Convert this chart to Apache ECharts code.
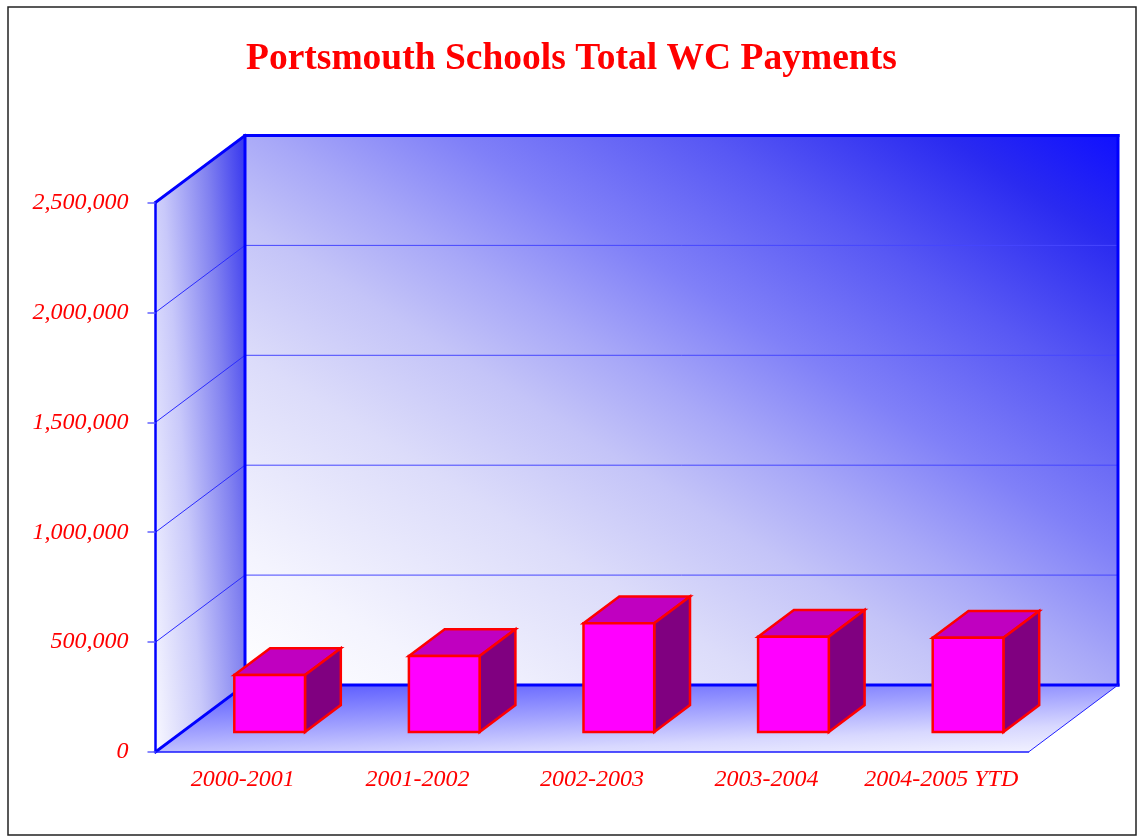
<!DOCTYPE html>
<html>
<head>
<meta charset="utf-8">
<title>Portsmouth Schools Total WC Payments</title>
<script src="https://cdn.jsdelivr.net/npm/echarts@6/dist/echarts.min.js"></script>
<style>
  html, body { margin: 0; padding: 0; background: #fff; }
  #chart { width: 1139px; height: 836px; }
</style>
</head>
<body>
<div id="chart"></div>
<script>
// chart data
var categories = ['2000-2001', '2001-2002', '2002-2003', '2003-2004', '2004-2005 YTD'];
var payments = [259000, 345000, 494000, 433000, 428000];
var yTicks = [0, 500000, 1000000, 1500000, 2000000, 2500000];

// 3d look: depth offset of the back wall, bar placement inside the depth
var DX = 89.5, DY = -67;
var BAR_FRONT = 0.3, BAR_BACK = 0.7, BAR_WIDTH = 0.405;

var chart = echarts.init(document.getElementById('chart'));

function fmt(v) {
    return String(v).replace(/\B(?=(\d{3})+(?!\d))/g, ',');
}

function lin(x1, y1, x2, y2, stops) {
    return new echarts.graphic.LinearGradient(x1, y1, x2, y2, stops, true);
}

// walls, floor and grid lines
function renderWalls(params, api) {
    if (params.dataIndex !== 0) return;
    var cs = params.coordSys;
    var x0 = cs.x, x1 = cs.x + cs.width, yt = cs.y, yb = cs.y + cs.height;
    var w = cs.width, h = cs.height;
    var kids = [];

    // left wall
    kids.push({
        type: 'polygon',
        shape: { points: [[x0, yb], [x0 + DX, yb + DY], [x0 + DX, yt + DY], [x0, yt]] },
        style: { fill: lin(x0, yb, x0 + 163, yb - 12, [
            { offset: 0, color: '#f8f8ff' },
            { offset: 0.3, color: '#c8c8fa' },
            { offset: 0.58, color: '#8080f0' },
            { offset: 0.85, color: '#2e2eee' },
            { offset: 1, color: '#1414ee' }
        ]) }
    });
    // floor
    kids.push({
        type: 'polygon',
        shape: { points: [[x0, yb], [x1, yb], [x1 + DX, yb + DY], [x0 + DX, yb + DY]] },
        style: { fill: lin(x0 + DX, yb + DY, x0 + DX + 5, yb + DY + 111, [
            { offset: 0, color: '#5858ff' },
            { offset: 0.4, color: '#a0a0ff' },
            { offset: 0.7, color: '#d8d8ff' },
            { offset: 1, color: '#fafaff' }
        ]) }
    });
    // back wall, diagonal corner-to-corner gradient
    var gx = 1 / (2 * w), gy = 1 / (2 * h), g2 = gx * gx + gy * gy;
    var bx0 = x0 + DX, by0 = yb + DY;
    kids.push({
        type: 'rect',
        shape: { x: x0 + DX, y: yt + DY, width: w, height: h },
        style: { fill: lin(bx0, by0, bx0 + gx / g2, by0 - gy / g2, [
            { offset: 0, color: '#ffffff' },
            { offset: 0.12, color: '#f4f4fe' },
            { offset: 0.3, color: '#dcdcfa' },
            { offset: 0.42, color: '#c4c4f8' },
            { offset: 0.51, color: '#a8a8f8' },
            { offset: 0.62, color: '#8080f8' },
            { offset: 0.76, color: '#5858f4' },
            { offset: 0.9, color: '#2a2af0' },
            { offset: 1, color: '#1010ff' }
        ]) }
    });

    // grid lines at inner ticks
    for (var i = 1; i < yTicks.length - 1; i++) {
        var y = api.coord([0, yTicks[i]])[1];
        kids.push({
            type: 'line',
            shape: { x1: x0 + DX, y1: y + DY, x2: x1 + DX, y2: y + DY },
            style: { stroke: '#4646ff', lineWidth: 1 }
        });
        kids.push({
            type: 'line',
            shape: { x1: x0, y1: y, x2: x0 + DX, y2: y + DY },
            style: { stroke: '#2a2aff', lineWidth: 1 }
        });
    }

    var edge = { stroke: '#0000ff', lineWidth: 3, lineCap: 'square' };
    var edges = [
        [x0 + DX, yt + DY, x1 + DX, yt + DY],
        [x1 + DX, yt + DY, x1 + DX, yb + DY],
        [x0 + DX, yt + DY, x0 + DX, yb + DY],
        [x0 + DX, yb + DY, x1 + DX, yb + DY],
        [x0, yt, x0 + DX, yt + DY],
        [x0, yb, x0 + DX, yb + DY]
    ];
    edges.forEach(function (e) {
        kids.push({ type: 'line', shape: { x1: e[0], y1: e[1], x2: e[2], y2: e[3] }, style: edge });
    });
    kids.push({
        type: 'line',
        shape: { x1: x1, y1: yb, x2: x1 + DX, y2: yb + DY },
        style: { stroke: '#2020ff', lineWidth: 1 }
    });

    return { type: 'group', children: kids };
}

// one 3d box per category
function renderBar(params, api) {
    var base = api.coord([api.value(0), 0]);
    var top = api.coord([api.value(0), api.value(1)]);
    var bw = api.size([1, 0])[0] * BAR_WIDTH;
    var ox = DX * BAR_FRONT, oy = DY * BAR_FRONT;
    var bx = DX * (BAR_BACK - BAR_FRONT), by = DY * (BAR_BACK - BAR_FRONT);
    var L = base[0] - bw / 2 + ox, R = base[0] + bw / 2 + ox;
    var B = base[1] + oy, T = top[1] + oy;
    var line = { stroke: '#ff0000', lineWidth: 2.5, lineJoin: 'miter' };

    return {
        type: 'group',
        children: [
            {
                type: 'polygon',
                shape: { points: [[L, T], [R, T], [R + bx, T + by], [L + bx, T + by]] },
                style: Object.assign({ fill: '#c000c0' }, line)
            },
            {
                type: 'polygon',
                shape: { points: [[R, T], [R + bx, T + by], [R + bx, B + by], [R, B]] },
                style: Object.assign({ fill: '#800080' }, line)
            },
            {
                type: 'rect',
                shape: { x: L, y: T, width: R - L, height: B - T },
                style: Object.assign({ fill: '#ff00ff' }, line)
            }
        ]
    };
}

var labelFont = {
    color: '#ff0000',
    fontFamily: '"Liberation Serif", "Times New Roman", serif',
    fontStyle: 'italic',
    fontSize: 24
};

chart.setOption({
    backgroundColor: '#ffffff',
    animation: false,
    title: {
        text: 'Portsmouth Schools Total WC Payments',
        left: 241,
        top: 35,
        textStyle: {
            color: '#ff0000',
            fontFamily: '"Liberation Serif", "Times New Roman", serif',
            fontWeight: 'bold',
            fontSize: 37.5
        }
    },
    graphic: [{
        type: 'rect',
        shape: { x: 8, y: 7, width: 1128, height: 828 },
        style: { fill: 'none', stroke: '#222', lineWidth: 1.5 },
        z: 100
    }],
    grid: { left: 155.5, right: 110.5, top: 202.5, bottom: 84 },
    xAxis: {
        type: 'category',
        data: categories,
        z: 10,
        axisLine: { lineStyle: { color: '#1a1aff', width: 1.5 } },
        axisTick: { length: 10, lineStyle: { color: '#4a4aff', width: 1.5 } },
        axisLabel: Object.assign({ margin: 16, interval: 0 }, labelFont),
        splitLine: { show: false }
    },
    yAxis: {
        type: 'value',
        min: yTicks[0],
        max: yTicks[yTicks.length - 1],
        interval: yTicks[1] - yTicks[0],
        z: 10,
        axisLine: { show: true, lineStyle: { color: '#0000ff', width: 2.5 } },
        axisTick: { show: true, length: 8, lineStyle: { color: '#6060ff', width: 1.5 } },
        axisLabel: Object.assign({ margin: 27, formatter: fmt }, labelFont),
        splitLine: { show: false }
    },
    series: [
        {
            type: 'custom',
            renderItem: renderWalls,
            data: [[0, 0]],
            z: 1,
            silent: true
        },
        {
            type: 'custom',
            renderItem: renderBar,
            data: payments.map(function (v, i) { return [i, v]; }),
            encode: { x: 0, y: 1 },
            z: 3
        }
    ]
});
</script>
</body>
</html>
